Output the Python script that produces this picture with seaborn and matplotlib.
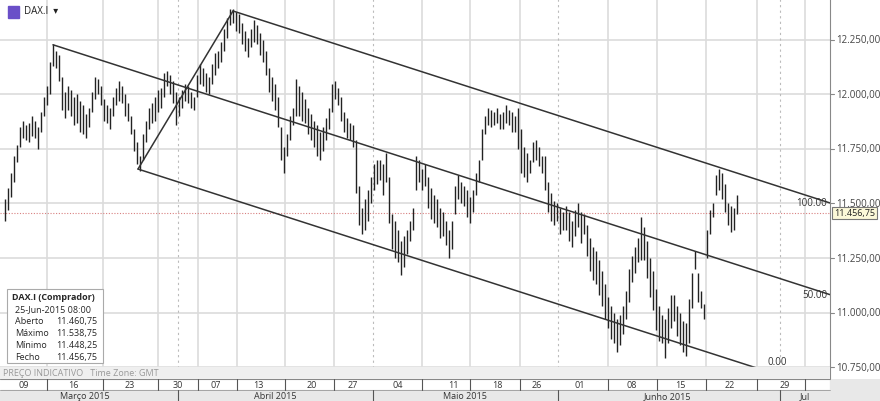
import matplotlib
matplotlib.use("Agg")
import matplotlib.pyplot as plt
import seaborn as sns
import pandas as pd
from matplotlib.patches import Rectangle

sns.set_style("white")
plt.rcParams['font.family'] = ['Open Sans', 'DejaVu Sans']

# ---- data (session index, high, low) ----
t = list(range(5, 738, 3))
high = [11520,11570,11640,11720,11770,11850,11880,11860,11870,11900,11880,11850,11920,11990,12040,12150,12230,12200,12180,12080,
        12010,12040,12020,11990,12000,11970,11950,11910,11940,12010,12080,12070,12040,11980,11950,11940,11990,12030,12060,12040,
        12000,11960,11900,11840,11780,11720,11820,11880,11940,11960,11990,12020,12030,12100,12110,12090,12060,12010,11990,12020,
        12050,12040,12010,11990,12090,12140,12120,12100,12080,12140,12190,12200,12240,12300,12350,12390,12390,12380,12370,12330,
        12290,12260,12300,12340,12320,12280,12250,12200,12120,12080,12050,11990,11850,11760,11820,11900,11940,12070,12040,12010,
        11980,11940,11910,11880,11860,11830,11850,11890,11940,12050,12060,12030,11990,11920,11890,11870,11860,11790,11580,11480,
        11520,11560,11620,11680,11700,11700,11680,11730,11620,11450,11420,11380,11330,11350,11380,11420,11480,11720,11700,11660,
        11680,11620,11570,11540,11520,11480,11460,11420,11380,11420,11580,11630,11600,11580,11560,11530,11560,11640,11700,11840,
        11900,11940,11930,11920,11940,11910,11920,11950,11930,11920,11900,11940,11840,11760,11730,11700,11780,11790,11760,11720,
        11720,11600,11550,11510,11500,11480,11460,11490,11460,11420,11470,11500,11460,11450,11400,11340,11300,11280,11240,11190,
        11130,11070,11030,11000,10970,10990,11030,11100,11200,11260,11300,11340,11440,11390,11330,11250,11190,11110,11030,10990,
        10970,11020,11080,11080,11030,11000,10960,10950,11060,11180,11280,11180,11100,11040,11380,11470,11500,11630,11660,11640,
        11590,11500,11490,11480,11540]
low = [11420,11470,11530,11600,11690,11760,11800,11790,11780,11810,11800,11750,11830,11900,11950,12000,12130,12120,12060,11930,
       11890,11930,11900,11860,11870,11830,11820,11800,11850,11920,11980,12000,11950,11880,11870,11840,11900,11950,11970,11960,
       11900,11880,11820,11740,11680,11650,11700,11780,11840,11870,11880,11920,11940,11990,12040,12000,11960,11860,11900,11940,
       11970,11960,11940,11930,11990,12050,12040,12010,12000,12050,12090,12120,12150,12200,12260,12320,12330,12290,12280,12230,
       12200,12170,12220,12240,12230,12180,12150,12090,12010,11970,11930,11850,11700,11640,11720,11790,11860,11900,11900,11880,
       11870,11820,11790,11760,11720,11700,11740,11790,11840,11920,11980,11950,11880,11830,11800,11790,11760,11550,11400,11360,
       11380,11420,11500,11560,11590,11610,11540,11600,11410,11290,11250,11230,11170,11210,11270,11330,11380,11560,11600,11560,
       11580,11480,11430,11410,11390,11340,11350,11310,11250,11290,11450,11520,11500,11490,11440,11410,11460,11540,11600,11700,
       11820,11860,11850,11860,11870,11840,11840,11870,11860,11830,11830,11750,11640,11620,11600,11640,11690,11700,11670,11640,
       11560,11460,11420,11400,11420,11360,11380,11380,11330,11300,11350,11390,11320,11360,11260,11190,11150,11130,11080,11030,
       10970,10930,10880,10860,10820,10850,10900,10970,11050,11140,11180,11230,11240,11240,11160,11070,11010,10920,10870,10860,
       10790,10860,10930,10960,10890,10850,10820,10800,10860,11020,11200,11050,11020,10970,11250,11360,11440,11540,11560,11520,
       11460,11400,11370,11380,11450]
n = min(len(t), len(high), len(low))
bars = pd.DataFrame({"t": t[:n], "high": high[:n], "low": low[:n]})

# pitchfork pivots (session index, price): median, lower, upper
piv_t = [53, 138, 233]
piv_p = [12228, 11658, 12383]
fork_end_t = [830, 770, 830]
chan_slope = -1.475
last_price = 11456.75
grid_prices = [10750, 11000, 11250, 11500, 11750, 12000, 12250]
week_sep = [47, 103, 158, 198, 237, 285, 334, 422, 470, 520, 608, 657, 706, 757, 805]
month_sep = [178, 373, 558, 780]
week_labels = ["09","16","23","30","07","13","20","27","04","11","18","26","01","08","15","22","29"]
week_pos = [24, 73, 130, 178, 216, 258, 312, 353, 398, 453, 497, 537, 580, 632, 680, 730, 785]
month_labels = ["Março 2015", "Abril 2015", "Maio 2015", "Junho 2015", "Jul"]
month_pos = [85, 275, 465, 667, 805]

W, H = 880, 402
YMIN, YMAX = 10695, 12438
fig = plt.figure(figsize=(8.8, 4.02), dpi=100)
ax = fig.add_axes([0, 22 / H, 830 / W, 380 / H])
ax.set_xlim(0, 830)
ax.set_ylim(YMIN, YMAX)
for gp in grid_prices:
    ax.axhline(gp, color="#dcdcdc", lw=1.2, zorder=0)
for ws in week_sep:
    ax.axvline(ws, color="#dcdcdc", lw=1.2, zorder=0)
for ms in month_sep:
    ax.axvline(ms, color="#bbbbbb", lw=0.8, ls=(0, (2, 3)), zorder=0)

ax.vlines(bars["t"], bars["low"], bars["high"], color="#222222", lw=1.0, zorder=2)

# pitchfork lines
for pt, pp, te in zip(piv_t, piv_p, fork_end_t):
    d = pd.DataFrame({"x": [pt, te], "y": [pp, pp + chan_slope * (te - pt)]})
    sns.lineplot(data=d, x="x", y="y", ax=ax, color="#333333", lw=1.1, legend=False)
d = pd.DataFrame({"x": [piv_t[1], piv_t[2]], "y": [piv_p[1], piv_p[2]]})
sns.lineplot(data=d, x="x", y="y", ax=ax, color="#333333", lw=1.1, legend=False)

ax.axhline(last_price, color="#d88080", lw=0.8, ls=(0, (1, 1.5)), zorder=1)

ax.text(827, piv_p[2] + chan_slope * (830 - piv_t[2]), "100.00", ha="right", va="center", fontsize=7, color="#333")
ax.text(827, piv_p[0] + chan_slope * (830 - piv_t[0]), "50.00", ha="right", va="center", fontsize=7, color="#333")
ax.text(787, piv_p[1] + chan_slope * (770 - piv_t[1]) + 25, "0.00", ha="right", va="bottom", fontsize=7, color="#333")

ax.set_xticks([]); ax.set_yticks([])
for s in ax.spines.values():
    s.set_visible(False)
ax.spines["right"].set_visible(True)
ax.spines["right"].set_color("#888888")

# bottom gray band inside chart
ax.add_patch(Rectangle((0, 0), 1, 12 / 380, transform=ax.transAxes, color="#efefef", zorder=3))
ax.text(3, YMIN + 6 * (YMAX - YMIN) / 380, "PREÇO INDICATIVO   Time Zone: GMT", fontsize=6.5,
        color="#999999", va="center", zorder=4)

# right axis labels
for gp in grid_prices:
    ypx = 380 - (gp - YMIN) / (YMAX - YMIN) * 380
    fig.text(836 / W, 1 - ypx / H, f"{gp:,.2f}".replace(",", "X").replace(".", ",").replace("X", "."),
             fontsize=7, color="#444", va="center", ha="left")
    fig.add_artist(plt.Line2D([830 / W, 834 / W], [1 - ypx / H] * 2, color="#888", lw=0.8))
ypx = 380 - (last_price - YMIN) / (YMAX - YMIN) * 380
fig.text(834 / W, 1 - ypx / H, "11.456,75", fontsize=6.5, color="#222", va="center", ha="left",
         bbox=dict(boxstyle="square,pad=0.2", fc="#fbf8d8", ec="#777", lw=0.8))

# info box
box = Rectangle((7 / W, 1 - 364 / H), 96 / W, 74 / H, transform=fig.transFigure, fc="white", ec="#aaaaaa", lw=0.8, zorder=5)
fig.add_artist(box)
fig.text(12 / W, 1 - 298 / H, "DAX.I (Comprador)", fontsize=6.5, weight="bold", va="center", zorder=6)
fig.text(15 / W, 1 - 310 / H, "25-Jun-2015 08:00", fontsize=6.5, va="center", zorder=6)
rows = [("Aberto", "11.460,75"), ("Máximo", "11.538,75"), ("Mínimo", "11.448,25"), ("Fecho", "11.456,75")]
for i, (a, b) in enumerate(rows):
    y = 1 - (322 + 11.7 * i) / H
    fig.text(15 / W, y, a, fontsize=6.5, va="center", zorder=6)
    fig.text(97 / W, y, b, fontsize=6.5, va="center", ha="right", zorder=6)

# title
fig.add_artist(Rectangle((8 / W, 1 - 19 / H), 11 / W, 12 / H, transform=fig.transFigure, color="#6a4fc8"))
fig.text(24 / W, 1 - 12 / H, "DAX.I  ▾", fontsize=7, va="center", color="#222")

# bottom strip
bx = fig.add_axes([0, 0, 1, 22 / H])
bx.set_xlim(0, W); bx.set_ylim(22, 0)
bx.axis("off")
bx.add_patch(Rectangle((0, 0), 830, 11, color="white"))
bx.add_patch(Rectangle((0, 11), 830, 11, color="#e8e8e8"))
bx.add_patch(Rectangle((830, 0), 50, 22, color="#e8e8e8"))
bx.axhline(0.3, xmax=830 / W, color="#888", lw=0.8)
bx.axhline(11, xmax=830 / W, color="#999", lw=0.6)
for ws in week_sep:
    bx.plot([ws, ws], [0, 11], color="#555", lw=0.8)
for ms in month_sep:
    bx.plot([ms, ms], [11, 22], color="#555", lw=0.8)
for lab, p in zip(week_labels, week_pos):
    bx.text(p, 5.5, lab, ha="center", va="center", fontsize=6.5, color="#333")
for lab, p in zip(month_labels, month_pos):
    bx.text(p, 16.8, lab, ha="center", va="center", fontsize=6.5, color="#333")

fig.savefig("out.png", dpi=100, facecolor="white")
